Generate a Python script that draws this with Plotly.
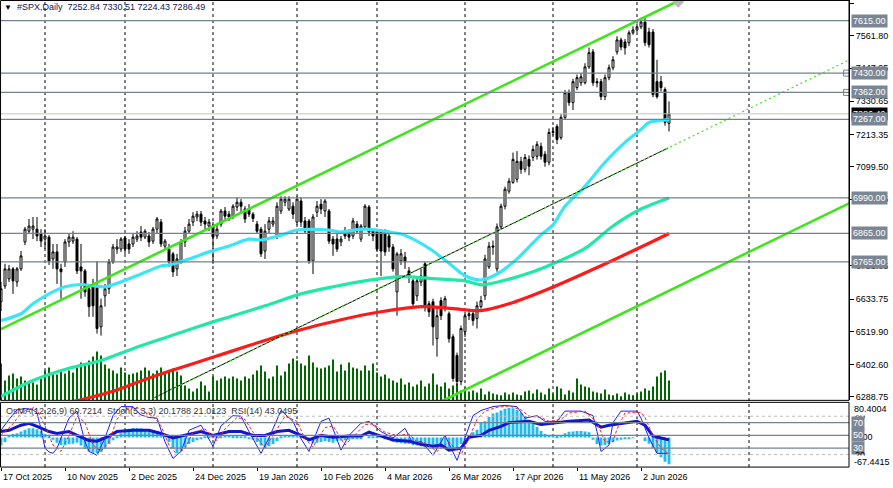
import plotly.graph_objects as go

# ---------------- data ----------------
opens = [6624,6680,6705,6740,6694,6740,6835,6873,6880,6880,6863,6845,6852,6775,6800,6740,6765,6835,6838,6845,
         6747,6733,6670,6677,6677,6536,6645,6670,6765,6810,6810,6849,6828,6828,6845,6870,6852,6856,6838,6880,
         6905,6820,6810,6793,6740,6768,6835,6873,6905,6923,6933,6909,6891,6891,6856,6898,6944,6933,6926,6958,
         6975,6951,6951,6933,6898,6880,6803,6880,6898,6856,6944,6975,6951,6961,6905,6979,6909,6909,6768,6940,
         6968,6944,6944,6845,6845,6835,6873,6870,6856,6898,6845,6888,6958,6873,6873,6870,6870,6856,6817,6659,
         6768,6782,6733,6698,6645,6694,6758,6617,6624,6494,6628,6607,6582,6501,6435,6343,6519,6575,6582,6565,
         6607,6645,6747,6821,6740,6888,6961,7014,7045,7056,7119,7091,7126,7133,7137,7172,7144,7116,7221,7242,
         7203,7274,7361,7326,7379,7396,7396,7452,7505,7400,7400,7347,7414,7449,7505,7547,7540,7537,7572,7582,
         7593,7610,7575,7575,7400,7400,7372,7252.84]
highs = [6694,6758,6754,6747,6747,6803,6888,6916,6923,6923,6880,6880,6859,6828,6828,6758,6845,6863,6873,6852,
         6828,6740,6687,6705,6768,6635,6687,6775,6828,6845,6852,6856,6845,6863,6873,6891,6880,6870,6888,6923,
         6916,6845,6828,6800,6793,6845,6888,6916,6940,6944,6944,6923,6916,6905,6898,6951,6958,6944,6968,6993,
         6986,6961,6968,6940,6909,6888,6898,6923,6923,6975,6996,6996,6996,6975,6996,6993,6923,6916,6933,6979,
         6986,6986,6951,6856,6863,6856,6888,6880,6920,6909,6898,6968,6965,6880,6880,6880,6880,6863,6828,6800,
         6810,6800,6747,6705,6715,6740,6765,6627,6635,6610,6640,6645,6590,6510,6445,6540,6590,6600,6595,6625,
         6645,6790,6835,6840,6900,6970,7030,7060,7150,7155,7135,7145,7140,7175,7190,7185,7155,7235,7240,7250,
         7285,7370,7372,7410,7425,7430,7465,7520,7515,7412,7410,7425,7460,7490,7560,7555,7550,7580,7595,7605,
         7625,7625,7590,7585,7477,7420,7380,7330.51]
lows = [6592,6670,6694,6652,6677,6733,6824,6863,6845,6838,6817,6810,6754,6740,6687,6635,6747,6817,6828,6722,
        6635,6642,6571,6571,6512,6505,6607,6652,6758,6793,6800,6793,6793,6817,6835,6838,6845,6817,6828,6863,
        6817,6810,6747,6712,6715,6758,6817,6863,6891,6908,6891,6880,6873,6758,6845,6888,6909,6909,6916,6944,
        6933,6902,6923,6905,6863,6782,6775,6863,6888,6845,6933,6961,6944,6916,6895,6888,6863,6758,6722,6923,
        6933,6923,6828,6786,6800,6820,6845,6838,6845,6863,6835,6880,6856,6838,6800,6715,6786,6800,6730,6575,
        6754,6740,6690,6600,6627,6680,6590,6571,6470,6431,6560,6590,6480,6343,6330,6330,6500,6560,6540,6530,
        6600,6630,6740,6790,6730,6880,6950,7005,7040,7045,7075,7080,7070,7120,7125,7125,7100,7105,7210,7180,
        7195,7265,7315,7300,7370,7385,7390,7445,7385,7380,7335,7335,7405,7440,7495,7510,7495,7525,7565,7575,
        7585,7525,7520,7345,7340,7365,7245,7224.43]
closes = [6670,6740,6740,6698,6740,6786,6880,6891,6891,6856,6838,6856,6768,6800,6740,6730,6835,6852,6852,6733,
          6733,6659,6607,6610,6530,6610,6670,6765,6817,6817,6845,6810,6810,6852,6856,6852,6873,6835,6880,6916,
          6828,6838,6765,6730,6775,6835,6873,6898,6926,6933,6905,6898,6905,6852,6880,6944,6926,6923,6961,6975,
          6961,6916,6933,6918,6873,6793,6873,6909,6909,6961,6986,6986,6986,6933,6986,6905,6873,6768,6923,6961,
          6951,6979,6838,6828,6810,6845,6856,6852,6909,6873,6891,6961,6870,6856,6810,6803,6800,6817,6740,6793,
          6793,6765,6715,6617,6698,6715,6607,6589,6536,6575,6575,6635,6494,6354,6343,6530,6575,6582,6558,6610,
          6628,6775,6820,6817,6888,6961,7021,7049,7126,7119,7091,7133,7102,7161,7179,7137,7116,7221,7224,7196,
          7274,7361,7326,7400,7414,7417,7452,7502,7396,7396,7347,7414,7449,7477,7547,7522,7519,7572,7582,7593,
          7610,7537,7530,7354,7347,7379,7256,7286.49]
volume = [37,20,25,27,22,24,20,18,18,16,22,
          30,33,28,26,30,27,30,28,33,38,36,
          40,44,49,45,36,32,30,27,33,28,26,
          27,28,30,33,30,27,30,33,28,30,
          32,29,25,15,12,9,12,19,15,9,24,20,
          22,24,22,24,22,20,24,22,26,30,35,29,22,24,
          35,25,29,37,42,40,37,35,45,38,33,32,33,35,41,29,
          36,30,38,33,32,30,35,30,37,
          28,24,26,22,20,18,22,16,18,14,16,20,14,17,27,
          16,14,18,12,15,17,10,13,9,
          10,8,12,6,9,7,6,5,8,6,
          8,6,5,9,10,7,11,8,6,12,7,14,12,6,10,8,22,16,
          14,13,9,8,7,11,6,5,7,4,8,6,5,7,9,
          12,10,14,24,28,30,20]
volume = [v * 1000 for v in volume]

# moving averages (bar index, value)
ma_fast_x = [0,5,8,12,16,20,23,26,30,35,40,42,47,52,57,62,65,70,74,82,85,90,94,97,100,104,108,112,116,120,124,129,135,138,141,146,151,156,160,162,165,167]
ma_fast_y = [6558,6582,6617,6652,6677,6685,6681,6677,6694,6722,6750,6754,6775,6800,6821,6845,6842,6859,6877,6877,6870,6880,6877,6870,6863,6838,6803,6760,6716,6701,6722,6775,6860,6895,6961,7031,7116,7186,7231,7256,7263,7267]
ma_mid_x = [0,8,17,25,33,42,50,58,66,75,83,91,100,108,116,120,124,133,138,146,153,160,167]
ma_mid_y = [6291,6347,6390,6417,6459,6502,6540,6575,6610,6652,6677,6698,6713,6706,6698,6684,6693,6730,6758,6812,6891,6951,6990]
ma_slow_x = [15,22,28,35,42,52,62,74,85,95,105,113,120,127,137,150,160,167]
ma_slow_y = [6262,6286,6309,6345,6379,6424,6470,6522,6561,6589,6607,6600,6593,6617,6670,6751,6817,6865]

# channel anchors (bar, price)
ch_upper_x, ch_upper_y = [0, 169.5], [6528, 7686]
ch_lower_x, ch_lower_y = [108, 212], [6259, 6971]
ch_mid_x, ch_mid_y = [38, 166.75], [6284, 7166]
ch_mid_ext_x, ch_mid_ext_y = [38, 212], [6284, 7476]

levels = [7615, 7430, 7362, 7267, 6990, 6865, 6765]
bid = 7286.49
price_ticks = [7675.65, 7561.80, 7447.95, 7330.65, 7213.35, 7099.50, 6985.65, 6751.05,
               6633.75, 6519.90, 6402.60, 6288.75]
month_start_bars = [11, 31, 53, 74, 94, 116, 138, 159, 187]
date_bars = [0, 16, 32, 48, 64, 80, 96, 112, 128, 144, 160]
date_labels = ["17 Oct 2025", "10 Nov 2025", "2 Dec 2025", "24 Dec 2025", "19 Jan 2026", "10 Feb 2026",
               "4 Mar 2026", "26 Mar 2026", "17 Apr 2026", "11 May 2026", "2 Jun 2026"]

# indicator window
osma = [-18,-10,6,8,10,14,18,21,21,19,15,8,3,-5,-12,-17,-17,-15,-14,-12,-18,-26,-32,-35,-36,-33,-25,-15,-6,3,
        10,16,20,22,22,21,19,17,16,15,10,5,-10,-25,-36,-30,-22,-15,-10,-6,-3,1,3,2,1,3,5,5,4,4,
        3,1,-2,-5,-10,-18,-22,-20,-15,-8,2,5,6,6,5,4,-3,-8,-13,-12,-10,-8,-10,-12,-8,-7,-6,-5,-4,-3,
        -2,0,2,3,2,0,-2,-5,-9,-12,-13,-14,-15,-17,-18,-20,-22,-22,-24,-25,-24,-24,-25,-26,-27,-15,-5,5,12,18,
        33,37,47,55,57,62,66,68,67,63,57,49,40,31,24,15,8,6,5,4,5,10,13,14,15,15,14,12,-5,-15,
        -18,-17,-15,-10,-7,-5,-4,-2,-1,0,0,-8,-14,-24,-35,-45,-55,-60.72]
stoch_x = [0,2,4,6,8,9,10,11,12,13,14,17,19,21,22,24,26,28,30,33,35,37,39,41,43,45,47,50,53,55,58,60,62,65,67,70,
           73,75,77,80,82,85,87,90,92,95,98,101,103,105,108,111,114,116,118,120,123,126,129,131,134,136,139,141,
           145,148,149,150,152,153,155,159,160,162,164,166,167]
stoch_y = [58,75,90,92,90,85,60,30,24,22,30,77,88,40,25,19,46,81,95,95,82,78,77,40,14,25,58,66,33,65,81,80,56,22,46,89,
           72,45,25,72,77,27,50,69,72,56,46,61,37,41,19,50,11,46,81,89,95,97,95,77,81,72,72,88,
           88,81,56,25,35,70,88,88,77,46,22,22,20.18]
signal_x = [0,3,5,7,9,11,13,15,17,19,21,23,25,27,29,31,34,36,38,40,42,44,46,48,51,54,56,59,61,63,66,68,71,74,76,78,
            81,83,86,88,91,93,96,99,102,104,106,109,112,115,117,119,121,124,127,130,132,135,137,140,142,146,149,151,
            153,154,156,160,161,163,165,167]
signal_y = [50,68,85,92,90,65,35,25,50,80,70,35,25,40,75,92,94,86,80,65,35,20,30,55,60,42,60,78,75,55,30,50,80,72,45,32,
            62,65,35,48,67,68,55,50,52,40,38,25,40,20,45,75,88,94,96,90,80,78,72,75,85,88,70,40,
            40,60,85,86,78,50,30,21.01]
rsi_x = [0,2,5,7,9,12,14,17,19,22,24,27,29,33,37,40,43,47,50,53,57,60,63,66,69,72,75,77,80,83,87,90,92,95,98,102,105,108,
         110,112,115,117,120,122,125,127,132,135,138,142,147,149,150,152,155,159,161,163,165,167]
rsi_y = [56,58,66,69,64,56,53,56,50,42,41,49,56,58,58,53,46,52,56,50,56,56,50,50,56,58,50,43,50,47,49,49,55,49,43,41,36,33,
         35,27,30,47,50,58,64,70,72,67,69,72,74,67,63,66,69,72,66,49,46,43.05]

# ---------------- geometry helpers ----------------
W, H = 893, 488
XR = 849 / W                     # right edge of the plot area (paper)
def py(pix):                     # pixel row -> paper y
    return 1 - pix / H

MAIN_BOT, IND_TOP, IND_BOT = 402, 404, 469
n = len(closes)
idx = list(range(n))
FONT = "Liberation Sans, Arial, sans-serif"
FS = 9
SLATE = "#74818f"
BOX = "#7a8694"
LIME = "#3fe41c"

fig = go.Figure()

# volume (base axis of the main window)
fig.add_trace(go.Bar(x=idx, y=volume, xaxis="x", yaxis="y", width=0.25,
                     marker=dict(color="#006800", line=dict(width=0)), hoverinfo="skip"))

# candles
fig.add_trace(go.Candlestick(x=idx, open=opens, high=highs, low=lows, close=closes,
                             xaxis="x", yaxis="y3", whiskerwidth=0,
                             increasing=dict(line=dict(color="black", width=1), fillcolor="white"),
                             decreasing=dict(line=dict(color="black", width=1), fillcolor="black"),
                             hoverinfo="skip"))

def line(xs, ys, color, width, dash=None, shape="linear", yaxis="y3", xaxis="x"):
    fig.add_trace(go.Scatter(x=xs, y=ys, mode="lines", xaxis=xaxis, yaxis=yaxis, hoverinfo="skip",
                             line=dict(color=color, width=width, dash=dash, shape=shape,
                                       smoothing=0.8 if shape == "spline" else None)))

line(ma_slow_x, ma_slow_y, "#ff1a1a", 3.2, shape="spline")
line(ma_mid_x, ma_mid_y, "#22e8a6", 3.2, shape="spline")
line(ma_fast_x, ma_fast_y, "#3ae6f5", 3.2, shape="spline")

# channel
line(ch_upper_x, ch_upper_y, LIME, 2.6)
line(ch_lower_x, ch_lower_y, LIME, 2.6)
line(ch_mid_x, ch_mid_y, "black", 1)
line(ch_mid_ext_x, ch_mid_ext_y, LIME, 1.2, dash="2px,3px")
fig.add_trace(go.Scatter(x=[169.3], y=[7681], mode="markers", xaxis="x", yaxis="y3", hoverinfo="skip",
                         marker=dict(symbol="diamond", size=9, color="#b8b8b8")))
fig.add_trace(go.Scatter(x=[211.4, 211.4], y=[7430, 7362], mode="markers", xaxis="x", yaxis="y3",
                         hoverinfo="skip",
                         marker=dict(symbol="square-open", size=6, color=SLATE, line=dict(width=1))))

# indicator window
fig.add_trace(go.Bar(x=idx, y=osma, xaxis="x2", yaxis="y2", width=0.72,
                     marker=dict(color="#1ebcf0", line=dict(width=0)), hoverinfo="skip"))
line(rsi_x, rsi_y, "#1414c8", 3, xaxis="x2", yaxis="y4")
line(stoch_x, stoch_y, "#1e1eff", 1, xaxis="x2", yaxis="y4")
line(signal_x, signal_y, "#ff2020", 1, dash="3px,2px", xaxis="x2", yaxis="y4")

shapes = []
# monthly dashed grid
for b in month_start_bars:
    shapes.append(dict(type="line", xref="x", yref="paper", x0=b, x1=b, y0=py(IND_BOT), y1=1,
                       line=dict(color="black", width=1, dash="3px,3px"), layer="below"))
# horizontal price levels
for lv in levels:
    shapes.append(dict(type="line", xref="paper", yref="y3", x0=0, x1=XR, y0=lv, y1=lv,
                       line=dict(color=SLATE, width=1.2)))
shapes.append(dict(type="line", xref="paper", yref="y3", x0=0, x1=XR, y0=bid, y1=bid,
                   line=dict(color="#c4c4c4", width=1)))
# oscillator levels
for lv in (70, 50, 30):
    shapes.append(dict(type="line", xref="paper", yref="y4", x0=0, x1=XR, y0=lv, y1=lv,
                       line=dict(color=SLATE, width=1.2)))
for lv in (80, 20):
    shapes.append(dict(type="line", xref="paper", yref="y4", x0=0, x1=XR, y0=lv, y1=lv,
                       line=dict(color="#bdbdbd", width=1, dash="3px,3px")))
# frames
shapes.append(dict(type="rect", xref="paper", yref="paper", x0=0.0006, x1=XR, y0=py(MAIN_BOT), y1=0.999,
                   line=dict(color="black", width=1)))
shapes.append(dict(type="rect", xref="paper", yref="paper", x0=0.0006, x1=XR, y0=py(IND_BOT), y1=py(IND_TOP),
                   line=dict(color="black", width=1)))

ann = []
def text(x, y, s, xref="paper", yref="paper", color="black", bg=None, size=FS, anchor="left"):
    ann.append(dict(x=x, y=y, xref=xref, yref=yref, text=s, showarrow=False, xanchor=anchor,
                    yanchor="middle", font=dict(family=FONT, size=size, color=color),
                    bgcolor=bg, borderpad=1))

# header
text(2 / W, py(7.5), "▼", color="black", size=8)
text(15 / W, py(7.5), "#SPX,Daily  7252.84 7330.51 7224.43 7286.49", color="#14145a")
text(4 / W, py(413), "OsMA(12,26,9) 60.7214  Stoch(5,3,3) 20.1788 21.0123  RSI(14) 43.0495", color="#333333")

# right price boxes
text(851 / W, bid, "7286.49", yref="y3", color="white", bg="black")
for lv in levels:
    text(851 / W, lv, f"{lv:.2f}", yref="y3", color="white", bg=BOX)

# indicator scale labels
text(853 / W, 80, "80", yref="y4")
text(852 / W, py(410.5), "80.4004", bg="white")
text(853 / W, py(439.3), "0.00")
for lv in (70, 50, 30):
    text(851 / W, lv, str(lv), yref="y4", color="white", bg=BOX)
text(853 / W, 20, "20", yref="y4")
text(852 / W, py(463.5), "-67.4415", bg="white")

# dates
for b, s in zip(date_bars, date_labels):
    text(b, py(479), s, xref="x")

fig.update_layout(
    width=W, height=H, margin=dict(l=0, r=0, t=0, b=0),
    paper_bgcolor="white", plot_bgcolor="white", showlegend=False, barmode="overlay",
    shapes=shapes, annotations=ann,
    xaxis=dict(domain=[0, XR], range=[-0.25, 212], visible=False, rangeslider=dict(visible=False),
               fixedrange=True),
    xaxis2=dict(domain=[0, XR], range=[-0.25, 212], anchor="y2", matches="x", showgrid=False,
                zeroline=False, showticklabels=False, ticks="outside", ticklen=3, tickcolor="black",
                tickvals=date_bars, showline=False),
    yaxis=dict(domain=[py(MAIN_BOT), 1], range=[0, 402000], visible=False),
    yaxis3=dict(overlaying="y", anchor="x", side="right", range=[6276.8, 7687.65],
                showgrid=False, zeroline=False, showline=True, linecolor="black", linewidth=1,
                ticks="outside", ticklen=4, tickcolor="black", tickvals=price_ticks,
                ticktext=[f"{v:.2f}" for v in price_ticks],
                tickfont=dict(family=FONT, size=FS, color="black")),
    yaxis2=dict(domain=[py(IND_BOT), py(IND_TOP)], range=[-67.4415, 80.4004], visible=False),
    yaxis4=dict(overlaying="y2", anchor="x2", side="right", range=[0.5, 101.7], visible=False),
)

fig.write_html("out.html")
